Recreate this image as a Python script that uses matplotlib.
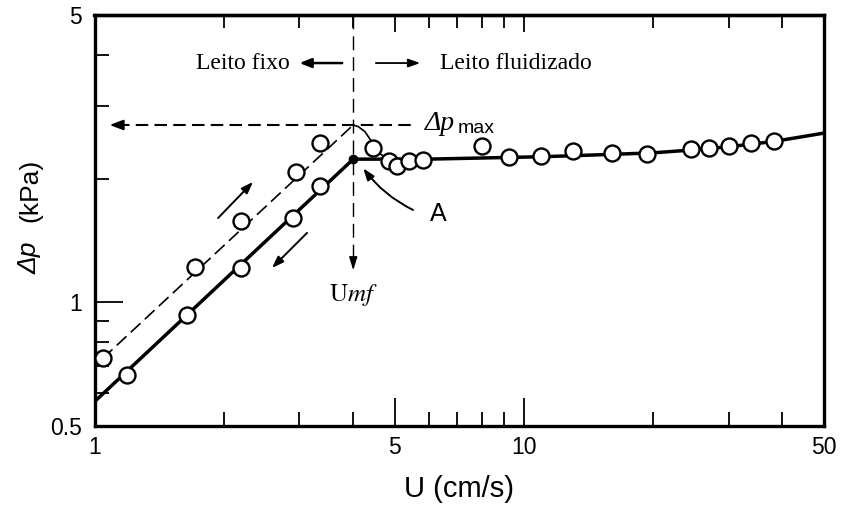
import matplotlib
matplotlib.use('Agg')
import matplotlib.pyplot as plt
from matplotlib.ticker import FixedLocator, FixedFormatter, NullFormatter

# ---------------- data ----------------
u_up = [1.045, 1.714, 2.194, 2.946, 3.35]
dp_up = [0.730, 1.22, 1.58, 2.08, 2.44]
u_down = [1.189, 1.64, 2.194, 2.904, 3.35]
dp_down = [0.666, 0.931, 1.21, 1.60, 1.92]
u_fl = [4.46, 4.86, 5.07, 5.41, 5.83, 7.97, 9.25, 10.96, 13.03, 16.02,
        19.39, 24.46, 27.03, 30.09, 33.75, 38.23]
dp_fl = [2.37, 2.21, 2.15, 2.21, 2.22, 2.40, 2.26, 2.27, 2.34, 2.31,
         2.30, 2.36, 2.38, 2.40, 2.44, 2.47]

u_up_line = [1.045, 4.005]
dp_up_line = [0.730, 2.70]
u_down_line = [1.0, 4.005]
dp_down_line = [0.573, 2.23]
u_fl_line = [4.005, 6.0, 11.0, 16.0, 20.0, 25.0, 30.0, 38.0, 50.0]
dp_fl_line = [2.23, 2.23, 2.26, 2.29, 2.31, 2.35, 2.39, 2.46, 2.58]
u_peak_curve = [4.005, 4.115, 4.266, 4.42, 4.52, 4.86, 5.07]
dp_peak_curve = [2.70, 2.675, 2.60, 2.46, 2.34, 2.21, 2.15]

u_mf = 4.005
dp_max = 2.70
dp_A = 2.23

x_ticks = [1, 5, 10, 50]
x_ticklabels = ['1', '5', '10', '50']
x_minor = [2, 3, 4, 6, 7, 8, 9, 20, 30, 40]
y_ticks = [0.5, 1, 5]
y_ticklabels = ['0.5', '1', '5']
y_minor = [0.6, 0.7, 0.8, 0.9, 2, 3, 4]

SANS = 'Liberation Sans'
SERIF = 'Liberation Serif'
plt.rcParams['font.family'] = [SANS, 'DejaVu Sans']

fig = plt.figure(figsize=(8.41, 5.09), dpi=100)
ax = fig.add_axes([94.5/841, 1-426/509, (824-94.5)/841, (426-15)/509])
ax.set_xscale('log')
ax.set_yscale('log')
ax.set_xlim(1, 50)
ax.set_ylim(0.5, 5)

# lines
ax.plot(u_up_line, dp_up_line, color='black', lw=1.2, linestyle=(0, (8, 3.5)), zorder=2)
ax.plot(u_down_line, dp_down_line, color='black', lw=2.5, zorder=2)
ax.plot(u_fl_line, dp_fl_line, color='black', lw=2.5, zorder=2)
ax.plot(u_peak_curve, dp_peak_curve, color='black', lw=1.2, zorder=2)

# markers
mk = dict(marker='o', ms=11.5, mfc='white', mec='black', mew=1.7, linestyle='none', zorder=4)
ax.plot(u_up, dp_up, **mk)
ax.plot(u_down, dp_down, **mk)
ax.plot(u_fl, dp_fl, **mk)
ax.plot([u_mf], [dp_A], marker='o', ms=6, color='black', linestyle='none', zorder=5)

# dashed reference lines
ax.plot([u_mf, u_mf], [5, 1.25], color='black', lw=1.0, linestyle=(0, (10, 5)), zorder=1)
ax.annotate('', xy=(u_mf, 1.178), xytext=(u_mf, 1.30),
            arrowprops=dict(arrowstyle='-|>,head_length=0.8,head_width=0.25', color='black', lw=1.0))
ax.plot([1.13, 5.48], [dp_max, dp_max], color='black', lw=1.5, linestyle=(0, (6, 3)), zorder=1)
ax.annotate('', xy=(1.068, dp_max), xytext=(1.16, dp_max),
            arrowprops=dict(arrowstyle='-|>,head_length=0.8,head_width=0.3', color='black', lw=1.5))

# texts
ax.text(5.885, 2.72, 'Δp', fontsize=20, family=SERIF, style='italic', ha='left', va='center')
ax.text(7.0, 2.65, 'max', fontsize=14, family=SANS, ha='left', va='center')
ax.text(u_mf, 1.04, r'$\mathrm{U}\mathit{mf}$', fontsize=18, ha='center', va='center',
        math_fontfamily='stix')
ax.text(2.853, 3.82, 'Leito fixo', fontsize=17, family=SERIF, ha='right', va='center')
ax.text(6.38, 3.82, 'Leito fluidizado', fontsize=17, family=SERIF, ha='left', va='center')
ax.annotate('', xy=(2.958, 3.82), xytext=(3.83, 3.82),
            arrowprops=dict(arrowstyle='-|>,head_length=0.7,head_width=0.28', color='black', lw=1.8))
ax.annotate('', xy=(5.82, 3.82), xytext=(4.454, 3.82),
            arrowprops=dict(arrowstyle='-|>,head_length=0.7,head_width=0.25', color='black', lw=1.3))

# A label
ax.text(6.31, 1.64, 'A', fontsize=18, family=SANS, ha='center', va='center')
ax.annotate('', xy=(4.227, 2.118), xytext=(5.52, 1.677),
            arrowprops=dict(arrowstyle='-|>,head_length=0.7,head_width=0.25', color='black', lw=1.4,
                            connectionstyle='arc3,rad=-0.12', shrinkA=0, shrinkB=0))

# direction arrows
ax.annotate('', xy=(2.34, 1.963), xytext=(1.94, 1.603),
            arrowprops=dict(arrowstyle='-|>,head_length=0.7,head_width=0.25', color='black', lw=1.4,
                            shrinkA=0, shrinkB=0))
ax.annotate('', xy=(2.59, 1.212), xytext=(3.126, 1.475),
            arrowprops=dict(arrowstyle='-|>,head_length=0.7,head_width=0.25', color='black', lw=1.4,
                            shrinkA=0, shrinkB=0))

# ticks
ax.xaxis.set_major_locator(FixedLocator(x_ticks))
ax.xaxis.set_major_formatter(FixedFormatter(x_ticklabels))
ax.xaxis.set_minor_locator(FixedLocator(x_minor))
ax.xaxis.set_minor_formatter(NullFormatter())
ax.yaxis.set_major_locator(FixedLocator(y_ticks))
ax.yaxis.set_major_formatter(FixedFormatter(y_ticklabels))
ax.yaxis.set_minor_locator(FixedLocator(y_minor))
ax.yaxis.set_minor_formatter(NullFormatter())
ax.tick_params(which='major', direction='in', length=20, width=1.3, top=False, right=False,
               labelsize=16.5)
ax.tick_params(which='minor', direction='in', length=10, width=1.3, top=False, right=False)
ax.tick_params(axis='x', which='major', pad=7)
ax.tick_params(axis='y', which='major', pad=9)

sec = ax.secondary_xaxis('top')
sec.xaxis.set_major_locator(FixedLocator([5, 10]))
sec.xaxis.set_minor_locator(FixedLocator(x_minor))
sec.xaxis.set_major_formatter(NullFormatter())
sec.xaxis.set_minor_formatter(NullFormatter())
sec.tick_params(which='major', direction='in', length=12, width=1.3)
sec.tick_params(which='minor', direction='in', length=9, width=1.3)
sec.spines['top'].set_linewidth(2.4)

for s in ax.spines.values():
    s.set_linewidth(2.4)

ax.set_xlabel('U (cm/s)', fontsize=21, labelpad=12)
fig.text(30/841, 1-258/509, 'Δp', rotation=90, fontsize=19, style='italic', ha='center', va='center')
fig.text(30/841, 1-190/509, '(kPa)', rotation=90, fontsize=19, ha='center', va='center')

fig.savefig('out.png', dpi=100)
